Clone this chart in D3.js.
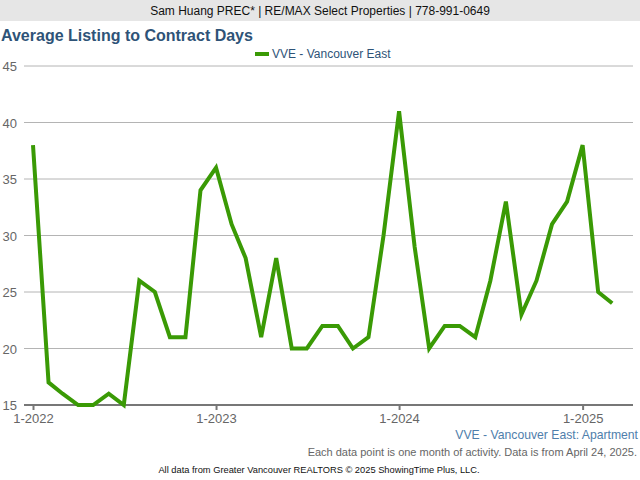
<!DOCTYPE html>
<html><head><meta charset="utf-8">
<script src="https://cdn.jsdelivr.net/npm/d3@7"></script>
<style>body{margin:0;background:#fff;font-family:"Liberation Sans",Arial,sans-serif}</style>
</head><body><svg id="c" width="640" height="480"></svg>
<script>
const months = d3.range(39).map(i => new Date(2022, i, 1));
const values = [38,17,16,15,15,16,15,26,25,21,21,34,
  36,31,28,21,28,20,20,22,22,20,21,30,
  41,29,20,22,22,21,26,33,23,26,31,33,
  38,25,24];
const yTicks = [15,20,25,30,35,40,45];
const xTicks = [new Date(2022,0,1),new Date(2023,0,1),new Date(2024,0,1),new Date(2025,0,1)];
const seriesName = "VVE - Vancouver East";

const svg = d3.select("#c");
const x = d3.scaleTime().domain([new Date(2022,0,1), new Date(2025,3,1)]).range([33, 627.75]);
const y = d3.scaleLinear().domain([15,45]).range([405,66]);

svg.append("rect").attr("x",0).attr("y",0).attr("width",640).attr("height",21).attr("fill","#e6e6e6");
svg.append("text").attr("x",320).attr("y",15).attr("text-anchor","middle").attr("font-size",12).attr("fill","#111")
  .text("Sam Huang PREC* | RE/MAX Select Properties | 778-991-0649");
svg.append("text").attr("x",1).attr("y",41).attr("font-size",16).attr("font-weight","bold").attr("fill","#2e5377")
  .text("Average Listing to Contract Days");

// legend
svg.append("line").attr("x1",255).attr("x2",269).attr("y1",54).attr("y2",54).attr("stroke","#3a9a05").attr("stroke-width",4);
svg.append("text").attr("x",272).attr("y",58).attr("font-size",12).attr("fill","#2e5377").text(seriesName);

// grid
const g = svg.append("g");
g.selectAll("line.grid").data(yTicks.filter(d=>d>15)).join("line")
  .attr("x1",24).attr("x2",633).attr("y1",d=>y(d)).attr("y2",d=>y(d)).attr("stroke","#b4b4b4").attr("stroke-width",1);
g.selectAll("text.yl").data(yTicks).join("text")
  .attr("x",17).attr("y",d=>y(d)+5).attr("text-anchor","end").attr("font-size",13).attr("fill","#666").text(d=>d);

// x axis
const xAxis = d3.axisBottom(x).tickValues(xTicks).tickFormat(d=>(d.getMonth()+1)+"-"+d.getFullYear()).tickSize(5).tickPadding(4);
const ax = svg.append("g").attr("transform","translate(0,405)").call(xAxis);
ax.select(".domain").remove();
ax.selectAll(".tick line").attr("stroke","#777").attr("stroke-width",2);
ax.selectAll(".tick text").attr("font-size",13).attr("fill","#666").attr("font-family","Liberation Sans, Arial, sans-serif");
svg.append("line").attr("x1",24).attr("x2",633).attr("y1",405).attr("y2",405).attr("stroke","#777").attr("stroke-width",2);

// line
const line = d3.line().x((d,i)=>x(months[i])).y(d=>y(d));
svg.append("path").datum(values).attr("d",line).attr("fill","none").attr("stroke","#3a9a05").attr("stroke-width",4).attr("stroke-linejoin","miter");

svg.append("text").attr("x",638).attr("y",439).attr("text-anchor","end").attr("font-size",12.2).attr("fill","#4f7eab")
  .text("VVE - Vancouver East: Apartment");
svg.append("text").attr("x",637).attr("y",456).attr("text-anchor","end").attr("font-size",11).attr("fill","#666")
  .text("Each data point is one month of activity. Data is from April 24, 2025.");
svg.append("text").attr("x",319).attr("y",473).attr("text-anchor","middle").attr("font-size",9.3).attr("fill","#111")
  .text("All data from Greater Vancouver REALTORS © 2025 ShowingTime Plus, LLC.");
</script></body></html>
